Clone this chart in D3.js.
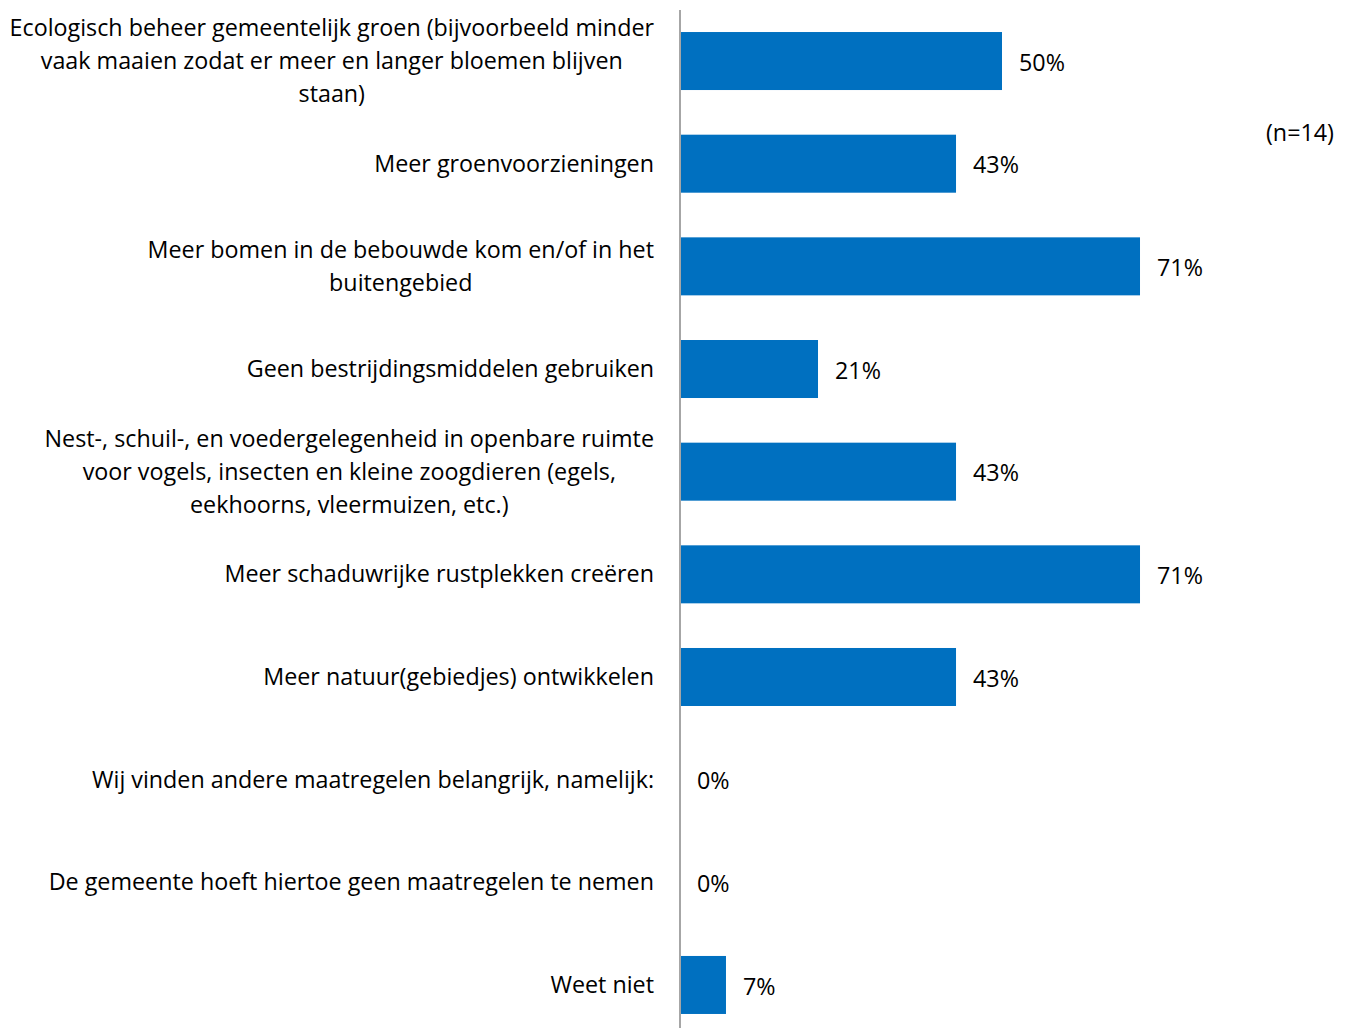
<!DOCTYPE html>
<html>
<head>
<meta charset="utf-8">
<script src="https://cdn.jsdelivr.net/npm/d3@7"></script>
<style>
  html, body { margin: 0; padding: 0; background: #fff; }
  svg { display: block; }
  text { font-family: "Open Sans", sans-serif; fill: #000; }
</style>
</head>
<body>
<svg id="chart" width="1352" height="1028"></svg>
<script>
// ---- data ----
const categories = [
  ["Ecologisch beheer gemeentelijk groen (bijvoorbeeld minder", "vaak maaien zodat er meer en langer bloemen blijven", "staan)"],
  ["Meer groenvoorzieningen"],
  ["Meer bomen in de bebouwde kom en/of in het", "buitengebied"],
  ["Geen bestrijdingsmiddelen gebruiken"],
  ["Nest-, schuil-, en voedergelegenheid in openbare ruimte", "voor vogels, insecten en kleine zoogdieren (egels,", "eekhoorns, vleermuizen, etc.)"],
  ["Meer schaduwrijke rustplekken creëren"],
  ["Meer natuur(gebiedjes) ontwikkelen"],
  ["Wij vinden andere maatregelen belangrijk, namelijk:"],
  ["De gemeente hoeft hiertoe geen maatregelen te nemen"],
  ["Weet niet"]
];
const values = [50.0, 42.86, 71.43, 21.43, 42.86, 71.43, 42.86, 0, 0, 7.14];
const valueLabels = ["50%", "43%", "71%", "21%", "43%", "71%", "43%", "0%", "0%", "7%"];
const noteText = "(n=14)";

// ---- layout ----
const svg = d3.select("#chart");
const W = 1352, H = 1028;
const axisX = 680;
const fontSize = 23.3;
const lineH = 32.8;

const x = d3.scaleLinear().domain([0, 100]).range([axisX, axisX + 644]);
const y = d3.scaleBand().domain(d3.range(categories.length))
  .range([9.7, 1036.3]).paddingInner(0.435).paddingOuter(0.2175);

// bars
svg.append("g").selectAll("rect").data(values).join("rect")
  .attr("x", x(0))
  .attr("y", (d, i) => y(i))
  .attr("width", d => x(d) - x(0))
  .attr("height", y.bandwidth())
  .attr("fill", "#0070C0");

// axis line
svg.append("line")
  .attr("x1", axisX).attr("x2", axisX)
  .attr("y1", 10).attr("y2", H)
  .attr("stroke", "#A6A6A6").attr("stroke-width", 2);

// category labels (block right-aligned, lines centred)
const labelRight = 654;
const lg = svg.append("g");
categories.forEach((lines, i) => {
  const cy = y(i) + y.bandwidth() / 2;
  const g = lg.append("g");
  const texts = lines.map((ln, j) => g.append("text")
    .attr("font-size", fontSize)
    .attr("text-anchor", "middle")
    .attr("dy", "0.35em")
    .attr("y", cy + (j - (lines.length - 1) / 2) * lineH)
    .text(ln));
  const maxW = d3.max(texts, t => t.node().getComputedTextLength());
  texts.forEach(t => t.attr("x", labelRight - maxW / 2));
});

// value labels
svg.append("g").selectAll("text").data(values).join("text")
  .attr("x", d => x(d) + 17)
  .attr("y", (d, i) => y(i) + y.bandwidth() / 2 + 1.5)
  .attr("dy", "0.35em")
  .attr("font-size", fontSize)
  .text((d, i) => valueLabels[i]);

// note
svg.append("text")
  .attr("x", 1334).attr("y", 133)
  .attr("dy", "0.35em")
  .attr("text-anchor", "end")
  .attr("font-size", fontSize)
  .text(noteText);
</script>
</body>
</html>
